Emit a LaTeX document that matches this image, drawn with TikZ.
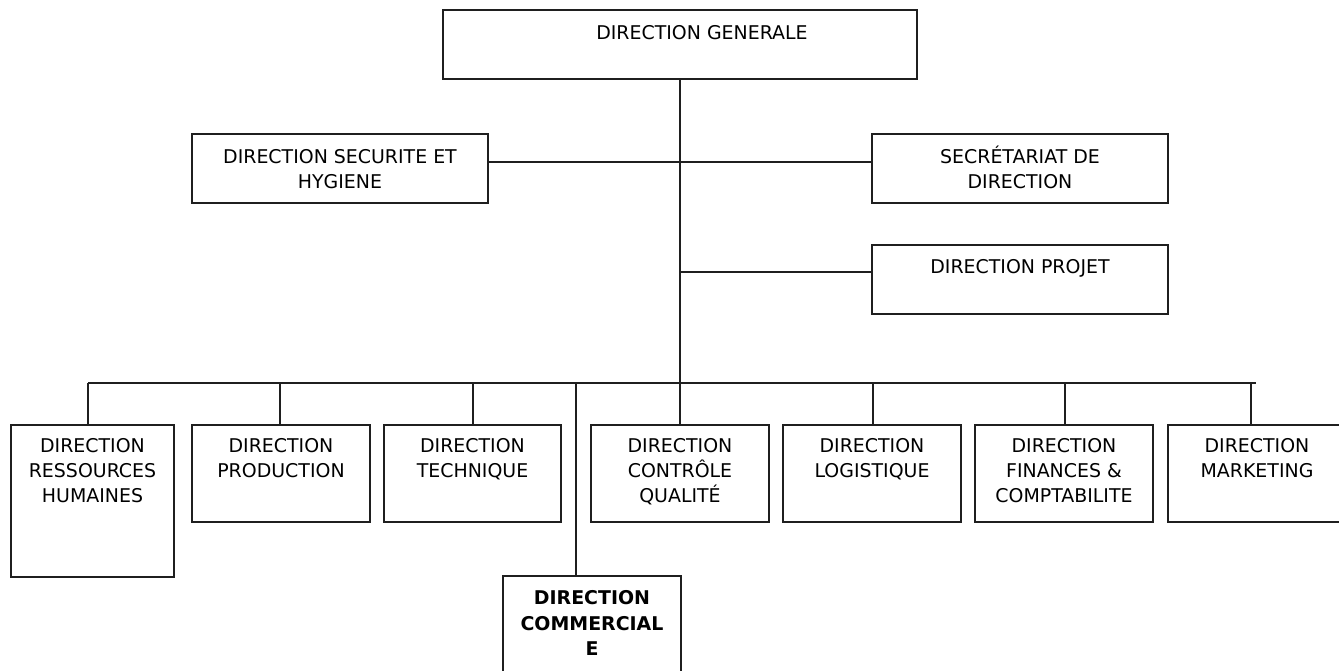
\documentclass[tikz,border=0pt]{standalone}
\usepackage{fontspec}
\setmainfont{DejaVu Sans}
% fixed first-line height so every label starts at the same depth
\newcommand\topstrut{\rule{0pt}{14pt}}
\begin{document}
\begin{tikzpicture}[x=0.75pt,y=-0.75pt,
  linecol/.style={draw=black!88},
  box/.style={linecol, line width=1.4pt, fill=none, inner sep=0pt, outer sep=0pt,
    anchor=north west},
  lbl/.style={anchor=north, inner sep=0pt, yshift=-6.85pt, align=center,
    text=black, font=\fontsize{14.2}{19}\selectfont},
  conn/.style={linecol, line width=1.4pt}]

\useasboundingbox (0,0) rectangle (1339,671);

% top level
\node[box, minimum width=355.5pt, minimum height=51.75pt,
  label={[lbl, xshift=16.5pt, yshift=-0.75pt]north:\topstrut DIRECTION GENERALE}] (dg) at (443,10) {};

% staff positions
\node[box, minimum width=222pt, minimum height=51.75pt,
  label={[lbl, yshift=-0.9pt]north:\topstrut DIRECTION SECURITE ET\\HYGIENE}] (secu) at (192,134) {};
\node[box, minimum width=222pt, minimum height=51.75pt,
  label={[lbl, yshift=-0.9pt]north:\topstrut SECRÉTARIAT DE\\DIRECTION}] (secr) at (872,134) {};
\node[box, minimum width=222pt, minimum height=51.75pt,
  label={[lbl]north:\topstrut DIRECTION PROJET}] (proj) at (872,245) {};

% departments
\node[box, minimum width=122.25pt, minimum height=114pt,
  label={[lbl, yshift=0.6pt]north:\topstrut DIRECTION\\RESSOURCES\\HUMAINES}] (rh) at (11,425) {};
\node[box, minimum width=133.5pt, minimum height=72.75pt,
  label={[lbl, yshift=0.6pt]north:\topstrut DIRECTION\\PRODUCTION}] (prod) at (192,425) {};
\node[box, minimum width=132.75pt, minimum height=72.75pt,
  label={[lbl, yshift=0.6pt]north:\topstrut DIRECTION\\TECHNIQUE}] (tech) at (384,425) {};
\node[box, minimum width=133.5pt, minimum height=93pt,
  label={[lbl, yshift=-0.6pt, font=\fontsize{14.2}{19}\selectfont\bfseries]north:\topstrut DIRECTION\\COMMERCIAL\\E}] (comm) at (503,576) {};
\node[box, minimum width=133.5pt, minimum height=72.75pt,
  label={[lbl, yshift=0.6pt]north:\topstrut DIRECTION\\CONTRÔLE\\QUALITÉ}] (cq) at (591,425) {};
\node[box, minimum width=133.5pt, minimum height=72.75pt,
  label={[lbl, yshift=0.6pt]north:\topstrut DIRECTION\\LOGISTIQUE}] (logi) at (783,425) {};
\node[box, minimum width=133.5pt, minimum height=72.75pt,
  label={[lbl, yshift=0.6pt]north:\topstrut DIRECTION\\FINANCES \&\\COMPTABILITE}] (fin) at (975,425) {};
\node[box, minimum width=133.5pt, minimum height=72.75pt,
  label={[lbl, yshift=0.6pt]north:\topstrut DIRECTION\\MARKETING}] (mkt) at (1168,425) {};

% junctions on the trunk and the bus
\coordinate (jsec) at (680,162);
\coordinate (jproj) at (680,272);
\coordinate (busL) at (88,383);
\coordinate (busR) at (1256,383);
\coordinate (d1) at (88,383);
\coordinate (d2) at (280,383);
\coordinate (d3) at (473,383);
\coordinate (d4) at (576,383);
\coordinate (d5) at (873,383);
\coordinate (d6) at (1065,383);
\coordinate (d7) at (1251,383);

% trunk
\draw[conn] (dg.south) -- (cq.north);
\draw[conn] (secu.east |- jsec) -- (secr.west |- jsec);
\draw[conn] (jproj) -- (proj.west |- jproj);
\draw[conn] (busL) -- (busR);

% drops
\draw[conn] (d1) -- (d1 |- rh.north);
\draw[conn] (d2) -- (d2 |- prod.north);
\draw[conn] (d3) -- (d3 |- tech.north);
\draw[conn] (d4) -- (d4 |- comm.north);
\draw[conn] (d5) -- (d5 |- logi.north);
\draw[conn] (d6) -- (d6 |- fin.north);
\draw[conn] (d7) -- (d7 |- mkt.north);
\end{tikzpicture}
\end{document}
